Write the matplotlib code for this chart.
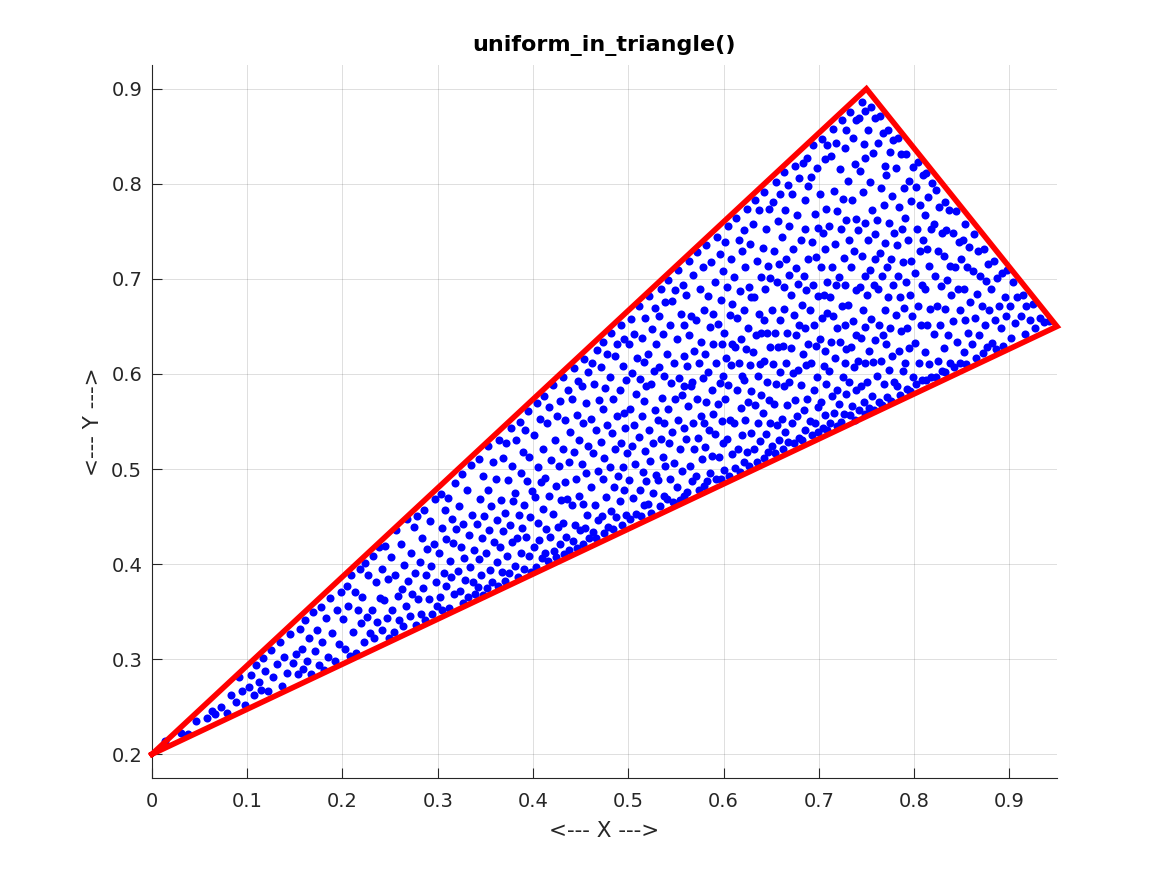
import matplotlib
matplotlib.use("Agg")
import matplotlib.pyplot as plt

# triangle corners (closed polygon)
tri_x = [0.0, 0.75, 0.95, 0.0]
tri_y = [0.2, 0.9, 0.65, 0.2]

x_ticks = [0, 0.1, 0.2, 0.3, 0.4, 0.5, 0.6, 0.7, 0.8, 0.9]
y_ticks = [0.2, 0.3, 0.4, 0.5, 0.6, 0.7, 0.8, 0.9]

# sample points (x, y)
dots = [
    (.014, .214), (.031, .222), (.038, .221), (.046, .235),
    (.058, .238), (.063, .245), (.066, .242), (.072, .250), (.079, .243), (.083, .262), (.088, .255), (.091, .281), (.095, .266), (.098, .252),
    (.102, .271), (.104, .283), (.107, .262), (.109, .294), (.112, .276), (.114, .268), (.117, .301), (.119, .287), (.122, .266),
    (.125, .310), (.127, .281), (.131, .295), (.134, .318), (.137, .272), (.139, .302), (.142, .285), (.145, .326), (.148, .296),
    (.151, .305), (.153, .284), (.155, .332), (.157, .311), (.159, .290), (.161, .341), (.163, .298), (.165, .322), (.167, .284),
    (.169, .350), (.171, .309), (.173, .331), (.175, .294), (.177, .355), (.179, .318), (.181, .289), (.183, .343), (.185, .302),
    (.187, .364), (.189, .327), (.192, .298), (.194, .352), (.196, .316), (.198, .371),
    (.201, .342), (.203, .311), (.205, .377), (.206, .356), (.208, .303), (.209, .389),
    (.211, .329), (.213, .371), (.214, .306), (.216, .352), (.218, .395), (.219, .338),
    (.221, .365), (.223, .318), (.224, .401), (.226, .344), (.227, .389), (.229, .327),
    (.231, .352), (.232, .408), (.233, .322), (.235, .381), (.236, .339), (.238, .418), (.239, .364),
    (.241, .395), (.242, .331), (.244, .362), (.245, .419), (.247, .343), (.248, .384), (.249, .322),
    (.251, .407), (.252, .352), (.254, .329), (.255, .388), (.256, .436), (.258, .366), (.259, .341),
    (.261, .421), (.262, .374), (.264, .335), (.265, .399), (.267, .356), (.268, .447), (.269, .382),
    (.271, .345), (.272, .412), (.273, .369), (.275, .439), (.276, .391), (.277, .336), (.278, .451), (.279, .363),
    (.281, .402), (.282, .348), (.283, .427), (.285, .375), (.286, .457), (.287, .341), (.288, .389), (.289, .416),
    (.291, .363), (.292, .445), (.293, .398), (.294, .347), (.296, .421), (.297, .468), (.298, .381), (.299, .356),
    (.301, .412), (.302, .365), (.303, .474), (.304, .438), (.305, .352), (.307, .391), (.308, .457), (.309, .377), (.309, .426),
    (.311, .469), (.312, .354), (.313, .403), (.314, .386), (.315, .447), (.316, .422), (.317, .368), (.318, .485), (.319, .437),
    (.321, .393), (.322, .461), (.323, .372), (.324, .418), (.325, .495), (.326, .359), (.327, .442), (.328, .406), (.329, .383),
    (.331, .478), (.332, .365), (.333, .431), (.334, .397), (.335, .504), (.336, .452), (.337, .381), (.338, .415), (.339, .369),
    (.341, .442), (.342, .376), (.343, .511), (.343, .405), (.344, .468), (.345, .389), (.346, .427), (.347, .367), (.348, .493), (.349, .451),
    (.351, .412), (.352, .375), (.353, .478), (.353, .524), (.354, .436), (.355, .394), (.356, .461), (.357, .381), (.358, .507), (.359, .423),
    (.361, .489), (.362, .402), (.362, .446), (.363, .377), (.364, .531), (.365, .418), (.366, .467), (.367, .392), (.368, .512), (.369, .435),
    (.371, .382), (.371, .454), (.372, .527), (.373, .409), (.374, .488), (.375, .391), (.376, .441), (.377, .543), (.378, .423), (.378, .503), (.379, .466),
    (.381, .398), (.381, .475), (.382, .531), (.383, .427), (.384, .386), (.385, .452), (.386, .549), (.387, .412), (.387, .496), (.388, .438), (.389, .518),
    (.391, .462), (.391, .395), (.392, .541), (.393, .428), (.394, .487), (.395, .561), (.396, .409), (.396, .513), (.397, .449), (.398, .392), (.399, .477),
    (.401, .418), (.401, .536), (.402, .471), (.403, .397), (.404, .569), (.405, .443), (.405, .502), (.406, .425), (.407, .553), (.408, .486), (.409, .406),
    (.411, .458), (.411, .521), (.412, .577), (.413, .412), (.413, .491), (.414, .437), (.415, .548), (.416, .403), (.417, .472), (.417, .565), (.418, .429), (.419, .509),
    (.421, .453), (.421, .588), (.422, .414), (.423, .531), (.424, .482), (.424, .407), (.425, .556), (.426, .439), (.427, .503), (.428, .572), (.428, .421), (.429, .467),
    (.431, .521), (.431, .443), (.432, .597), (.433, .411), (.434, .486), (.434, .552), (.435, .428), (.436, .468), (.437, .583), (.438, .507), (.438, .415), (.439, .539),
    (.441, .462), (.441, .574), (.442, .424), (.443, .518), (.443, .606), (.444, .441), (.445, .489), (.446, .557), (.446, .417), (.447, .593), (.448, .472), (.448, .531), (.449, .436),
    (.451, .505), (.451, .587), (.452, .421), (.453, .463), (.453, .548), (.454, .616), (.455, .438), (.456, .496), (.456, .569), (.457, .452), (.458, .524), (.458, .602), (.459, .427),
    (.461, .481), (.461, .553), (.462, .612), (.463, .434), (.463, .517), (.464, .589), (.465, .462), (.466, .427), (.466, .541), (.467, .625), (.468, .498), (.468, .446), (.469, .573),
    (.471, .528), (.471, .607), (.472, .451), (.473, .489), (.473, .634), (.474, .563), (.475, .433), (.475, .512), (.476, .585), (.477, .471), (.478, .546), (.478, .621), (.479, .439),
    (.481, .502), (.481, .597), (.482, .456), (.482, .643), (.483, .538), (.484, .437), (.484, .574), (.485, .481), (.486, .619), (.486, .521), (.487, .449), (.488, .556), (.488, .632), (.489, .493),
    (.491, .466), (.491, .583), (.492, .527), (.492, .651), (.493, .441), (.494, .608), (.494, .502), (.495, .559), (.496, .478), (.496, .637), (.497, .543), (.498, .452), (.498, .594), (.499, .517),
    (.501, .631), (.501, .488), (.502, .563), (.502, .447), (.503, .658), (.504, .524), (.504, .601), (.505, .469), (.506, .546), (.506, .642), (.507, .505), (.508, .579), (.508, .453), (.509, .617),
    (.511, .534), (.511, .672), (.512, .478), (.512, .595), (.513, .451), (.514, .556), (.514, .638), (.515, .497), (.516, .613), (.516, .462), (.517, .572), (.518, .519), (.518, .659), (.519, .487), (.519, .587),
    (.521, .463), (.521, .621), (.522, .541), (.522, .682), (.523, .508), (.524, .589), (.524, .454), (.525, .647), (.526, .527), (.526, .475), (.527, .603), (.528, .562), (.528, .669), (.529, .494), (.529, .632),
    (.531, .552), (.531, .488), (.532, .661), (.532, .607), (.533, .461), (.534, .532), (.534, .689), (.535, .575), (.536, .513), (.536, .642), (.537, .472), (.538, .598), (.538, .548), (.539, .676), (.539, .503),
    (.541, .621), (.541, .468), (.542, .563), (.542, .699), (.543, .527), (.544, .652), (.544, .489), (.545, .591), (.546, .539), (.546, .677), (.547, .465), (.548, .612), (.548, .506), (.549, .574), (.549, .688),
    (.551, .481), (.551, .637), (.552, .552), (.552, .709), (.553, .596), (.554, .467), (.554, .521), (.555, .663), (.556, .578), (.556, .498), (.557, .694), (.558, .619), (.558, .543), (.559, .472), (.559, .651), (.559, .587),
    (.561, .532), (.561, .683), (.562, .608), (.562, .476), (.563, .566), (.564, .719), (.564, .641), (.565, .503), (.566, .587), (.566, .661), (.567, .487), (.568, .548), (.568, .704), (.569, .624), (.569, .521), (.567, .592),
    (.571, .657), (.571, .493), (.572, .574), (.572, .728), (.573, .533), (.574, .612), (.574, .478), (.575, .689), (.576, .556), (.576, .634), (.577, .511), (.578, .712), (.578, .596), (.579, .482), (.579, .667), (.579, .548),
    (.581, .621), (.581, .523), (.582, .736), (.582, .571), (.583, .487), (.584, .682), (.584, .602), (.585, .541), (.586, .649), (.586, .496), (.587, .718), (.588, .583), (.588, .514), (.589, .663), (.589, .631), (.589, .558),
    (.591, .697), (.591, .537), (.592, .612), (.592, .489), (.593, .744), (.594, .568), (.594, .653), (.595, .513), (.596, .726), (.596, .591), (.597, .489), (.597, .678), (.598, .551), (.598, .631), (.599, .708), (.599, .527), (.599, .598),
    (.601, .643), (.601, .499), (.602, .574), (.602, .739), (.603, .617), (.604, .532), (.604, .691), (.605, .756), (.605, .588), (.606, .493), (.607, .662), (.607, .552), (.608, .721), (.608, .609), (.609, .516), (.609, .674), (.609, .631),
    (.611, .548), (.611, .702), (.612, .628), (.612, .501), (.613, .764), (.614, .583), (.614, .659), (.615, .521), (.616, .741), (.616, .612), (.617, .497), (.617, .687), (.618, .564), (.618, .637), (.619, .729), (.619, .536), (.619, .598),
    (.621, .667), (.621, .507), (.622, .594), (.622, .751), (.623, .552), (.623, .713), (.624, .626), (.625, .518), (.625, .774), (.626, .648), (.626, .571), (.627, .503), (.627, .692), (.628, .609), (.628, .737), (.629, .538), (.629, .681), (.629, .582),
    (.631, .623), (.631, .758), (.632, .521), (.632, .681), (.633, .567), (.633, .783), (.634, .641), (.635, .507), (.635, .719), (.636, .598), (.636, .548), (.637, .663), (.637, .772), (.638, .529), (.638, .611), (.639, .702), (.639, .578), (.639, .643),
    (.641, .732), (.641, .559), (.642, .657), (.642, .512), (.643, .791), (.643, .614), (.644, .689), (.645, .537), (.645, .752), (.646, .592), (.646, .643), (.647, .518), (.647, .714), (.648, .573), (.648, .774), (.649, .628), (.649, .548), (.649, .701),
    (.651, .667), (.651, .524), (.652, .611), (.652, .781), (.653, .568), (.653, .729), (.654, .643), (.654, .517), (.655, .802), (.655, .589), (.656, .697), (.656, .546), (.657, .761), (.657, .628), (.658, .531), (.658, .716), (.659, .602), (.659, .789), (.659, .657),
    (.661, .553), (.661, .744), (.662, .629), (.662, .521), (.663, .691), (.663, .812), (.664, .587), (.664, .668), (.665, .539), (.665, .773), (.666, .612), (.666, .721), (.667, .567), (.667, .643), (.668, .799), (.668, .528), (.669, .704), (.669, .592), (.669, .756),
    (.671, .627), (.671, .683), (.672, .548), (.672, .789), (.673, .601), (.673, .731), (.674, .527), (.674, .662), (.675, .819), (.675, .573), (.676, .711), (.676, .641), (.677, .556), (.677, .767), (.678, .604), (.678, .695), (.679, .533), (.679, .806), (.679, .652),
    (.681, .741), (.681, .588), (.682, .673), (.682, .531), (.683, .822), (.683, .621), (.684, .703), (.684, .562), (.685, .783), (.685, .648), (.686, .541), (.686, .752), (.687, .609), (.687, .688), (.688, .827), (.688, .574), (.689, .721), (.689, .632), (.689, .798),
    (.691, .551), (.691, .667), (.692, .807), (.692, .612), (.693, .739), (.693, .536), (.694, .694), (.694, .841), (.695, .583), (.695, .651), (.696, .768), (.696, .548), (.697, .723), (.697, .629), (.698, .817), (.698, .597), (.699, .682), (.699, .539), (.699, .754), (.699, .565),
    (.701, .637), (.701, .789), (.702, .571), (.702, .712), (.703, .847), (.703, .659), (.704, .543), (.704, .748), (.705, .608), (.705, .683), (.706, .826), (.706, .557), (.707, .731), (.707, .624), (.708, .774), (.708, .589), (.709, .697), (.709, .841), (.709, .541), (.709, .664),
    (.711, .603), (.711, .756), (.712, .681), (.712, .548), (.713, .829), (.713, .634), (.714, .712), (.714, .577), (.715, .858), (.715, .661), (.716, .792), (.716, .559), (.717, .737), (.717, .617), (.718, .843), (.718, .694), (.719, .583), (.719, .771), (.719, .648), (.719, .545),
    (.721, .702), (.721, .568), (.722, .816), (.722, .634), (.723, .753), (.723, .549), (.724, .867), (.724, .671), (.725, .597), (.725, .784), (.726, .722), (.726, .558), (.727, .651), (.727, .838), (.728, .612), (.728, .694), (.729, .762), (.729, .579), (.729, .857), (.729, .626),
    (.731, .673), (.731, .803), (.732, .592), (.732, .741), (.733, .557), (.733, .876), (.734, .628), (.734, .712), (.735, .783), (.735, .566), (.736, .656), (.736, .848), (.737, .607), (.737, .729), (.738, .552), (.738, .821), (.739, .688), (.739, .641), (.739, .867), (.739, .583), (.739, .763),
    (.741, .614), (.741, .751), (.742, .869), (.742, .562), (.743, .692), (.743, .813), (.744, .638), (.744, .587), (.745, .886), (.745, .724), (.746, .667), (.746, .791), (.747, .571), (.747, .842), (.748, .612), (.748, .703), (.749, .759), (.749, .558), (.749, .877), (.749, .649), (.749, .827),
    (.751, .683), (.751, .592), (.752, .857), (.752, .741), (.753, .564), (.753, .624), (.754, .802), (.754, .709), (.755, .881), (.755, .658), (.756, .577), (.756, .772), (.757, .832), (.757, .613), (.758, .694), (.758, .562), (.759, .747), (.759, .636), (.759, .869), (.759, .721),
    (.761, .598), (.761, .762), (.762, .689), (.762, .843), (.763, .571), (.763, .652), (.764, .871), (.764, .727), (.765, .614), (.765, .796), (.766, .567), (.766, .703), (.767, .854), (.767, .641), (.768, .778), (.768, .589), (.769, .667), (.769, .819), (.769, .738),
    (.771, .631), (.771, .809), (.772, .712), (.772, .576), (.773, .857), (.773, .681), (.774, .604), (.774, .759), (.775, .833), (.775, .648), (.776, .572), (.776, .721), (.777, .787), (.777, .619), (.778, .694), (.778, .846), (.779, .592), (.779, .748),
    (.781, .662), (.781, .817), (.782, .587), (.782, .736), (.783, .848), (.783, .703), (.784, .624), (.784, .776), (.785, .578), (.785, .681), (.786, .831), (.786, .645), (.787, .752), (.788, .603), (.788, .718), (.789, .796), (.789, .669),
    (.791, .612), (.791, .764), (.792, .697), (.792, .831), (.793, .584), (.793, .648), (.794, .741), (.795, .803), (.795, .627), (.796, .683), (.796, .582), (.797, .782), (.797, .719), (.798, .661), (.799, .818), (.799, .597),
    (.801, .706), (.801, .633), (.802, .797), (.802, .589), (.803, .752), (.804, .671), (.804, .823), (.805, .612), (.806, .729), (.806, .778), (.807, .651), (.808, .594), (.808, .694), (.809, .809), (.809, .741),
    (.811, .623), (.811, .767), (.812, .689), (.813, .811), (.813, .594), (.814, .731), (.814, .652), (.815, .786), (.816, .611), (.816, .714), (.817, .668), (.818, .752), (.818, .597), (.819, .801),
    (.821, .642), (.821, .758), (.822, .703), (.823, .597), (.823, .794), (.824, .671), (.825, .729), (.825, .614), (.826, .776), (.827, .652), (.828, .693), (.829, .603), (.829, .748),
    (.831, .724), (.831, .627), (.832, .781), (.833, .668), (.833, .602), (.834, .751), (.835, .699), (.836, .641), (.837, .772), (.838, .612), (.838, .714), (.839, .683),
    (.841, .656), (.841, .748), (.842, .607), (.843, .712), (.844, .771), (.845, .634), (.846, .689), (.847, .739), (.848, .612), (.848, .667), (.849, .721),
    (.851, .741), (.852, .623), (.852, .689), (.853, .657), (.854, .758), (.855, .611), (.856, .712), (.857, .643), (.858, .734), (.859, .676),
    (.861, .631), (.862, .708), (.863, .747), (.864, .659), (.865, .617), (.866, .684), (.867, .729), (.868, .641), (.869, .703),
    (.871, .672), (.872, .622), (.873, .731), (.874, .651), (.875, .698), (.877, .628), (.878, .716), (.879, .667),
    (.881, .689), (.882, .633), (.884, .719), (.885, .657), (.886, .626), (.887, .701), (.889, .672),
    (.891, .648), (.892, .706), (.893, .629), (.895, .681), (.897, .661), (.898, .709),
    (.901, .672), (.902, .638), (.904, .697), (.906, .654), (.908, .681),
    (.912, .661), (.914, .683), (.916, .642), (.918, .671),
    (.922, .657), (.925, .674), (.927, .648),
    (.932, .659), (.936, .655),
    (.942, .656),
]
dot_x = [p[0] for p in dots]
dot_y = [p[1] for p in dots]

axis_gray = "#262626"
plt.rcParams["font.family"] = "DejaVu Sans"

fig = plt.figure(figsize=(11.67, 8.75), dpi=100)
ax = fig.add_axes([0.1302, 0.1109, 0.7755, 0.8148])

ax.plot(dot_x, dot_y, "o", color="blue", markersize=5.8, markeredgewidth=0, zorder=2)
ax.plot(tri_x, tri_y, color="red", linewidth=4, solid_joinstyle="miter", zorder=3, clip_on=False)

ax.set_xlim(0, 0.95)
ax.set_ylim(0.175, 0.925)
ax.set_xticks(x_ticks)
ax.set_yticks(y_ticks)
ax.set_xticklabels(["0"] + [f"{v:g}" for v in x_ticks[1:]])
ax.set_yticklabels([f"{v:g}" for v in y_ticks])

ax.spines["top"].set_visible(False)
ax.spines["right"].set_visible(False)
for s in ("left", "bottom"):
    ax.spines[s].set_color(axis_gray)
    ax.spines[s].set_linewidth(0.8)

ax.tick_params(direction="in", length=7, width=0.8, color=axis_gray,
               labelcolor=axis_gray, labelsize=14)
ax.tick_params(axis="x", pad=10)
ax.tick_params(axis="y", pad=7)
ax.grid(True, color="#262626", alpha=0.15, linewidth=0.7)
ax.set_axisbelow(True)

ax.set_xlabel("<--- X --->", fontsize=15.5, color=axis_gray, labelpad=7)
ax.set_ylabel("<--- Y --->", fontsize=15.5, color=axis_gray, labelpad=6)
ax.set_title("uniform_in_triangle()", fontsize=16, fontweight="bold", pad=10)

fig.savefig("out.png", dpi=100)
